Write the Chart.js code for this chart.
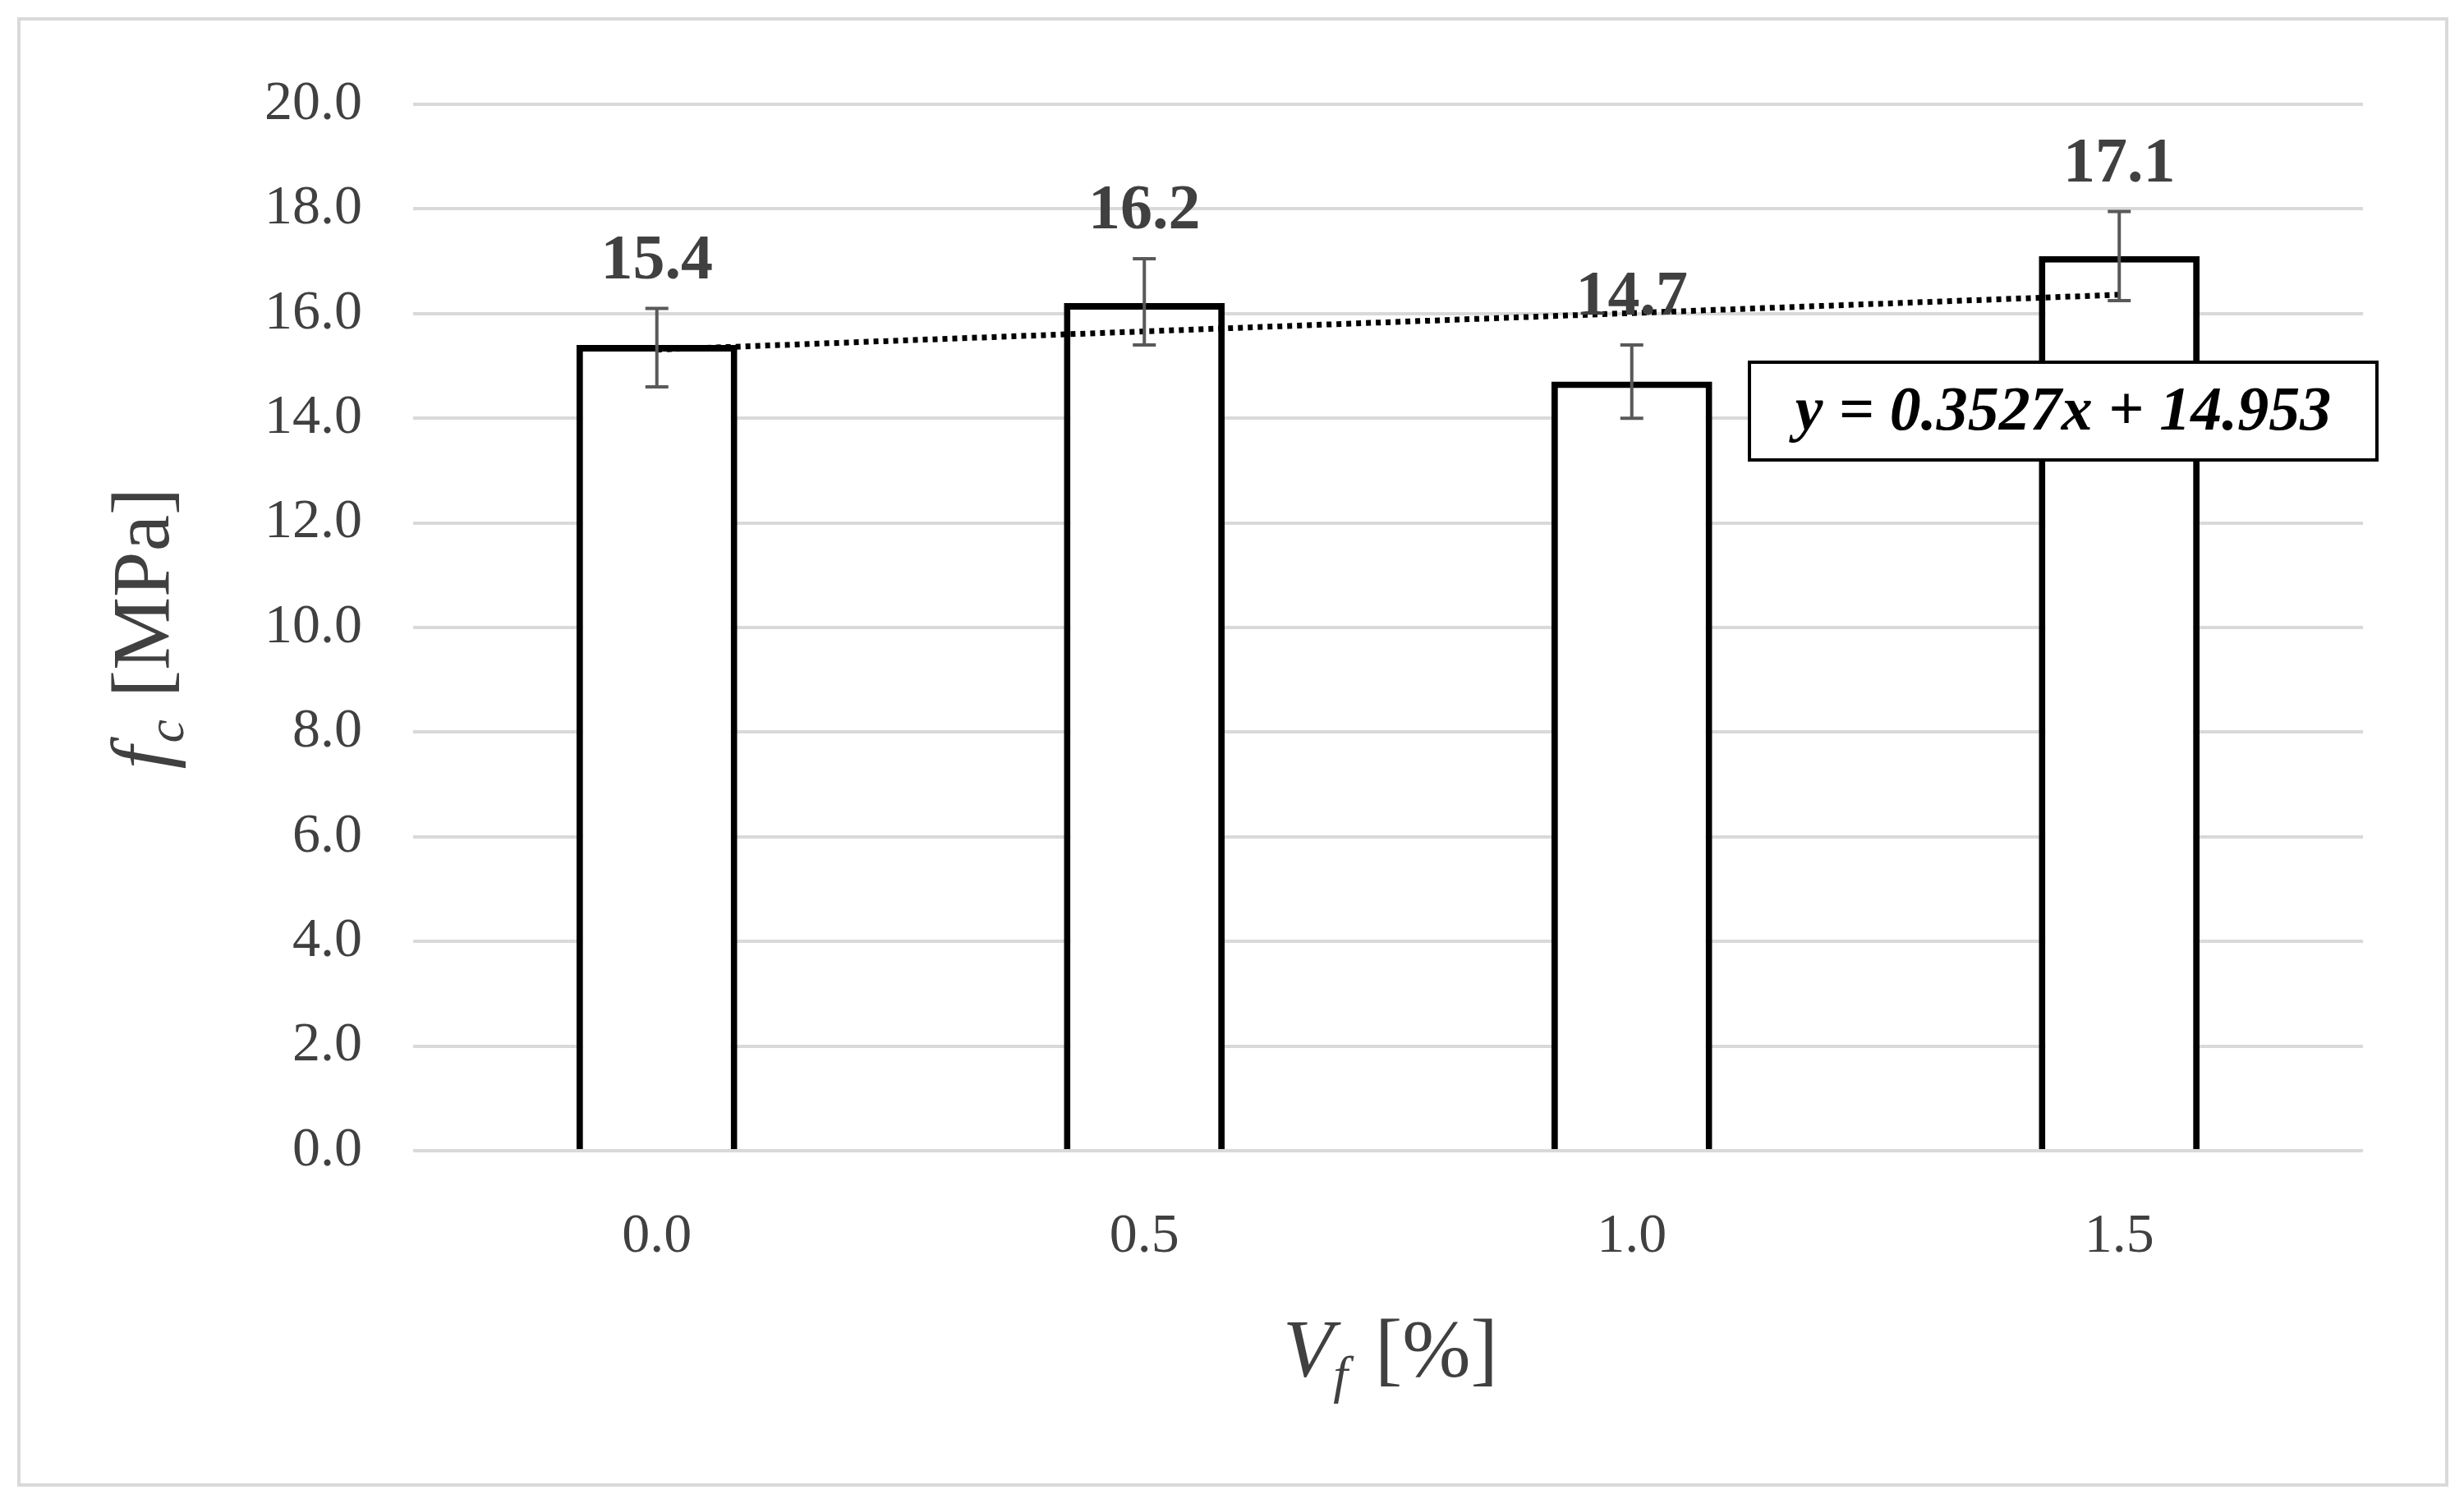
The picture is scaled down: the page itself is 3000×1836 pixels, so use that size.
<!DOCTYPE html>
<html>
<head>
<meta charset="utf-8">
<script src="https://cdn.jsdelivr.net/npm/chart.js@4.4.1/dist/chart.umd.min.js"></script>
<style>
  html, body { margin: 0; padding: 0; background: #fff; }
  canvas { display: block; }
</style>
</head>
<body>
<canvas id="grafica" width="3000" height="1836"></canvas>
<script>
// datos
var categorias = ['0.0', '0.5', '1.0', '1.5'];
var resistencia = [15.4, 16.2, 14.7, 17.1];
var errorSup = [16.1, 17.05, 15.4, 17.95];
var errorInf = [14.6, 15.4, 14.0, 16.25];
var tendencia = [15.31, 15.66, 16.01, 16.36];
var ecuacion = 'y = 0.3527x + 14.953';

var serif = '"Liberation Serif", "DejaVu Serif", serif';

// barras de error, etiquetas, titulos y marco
var extras = {
    id: 'extras',
    afterDatasetsDraw: function(chart) {
        var c = chart.ctx, x = chart.scales.x, y = chart.scales.y;
        c.save();
        // barras de error
        c.strokeStyle = '#595959';
        c.lineWidth = 4;
        for (var i = 0; i < resistencia.length; i++) {
            var px = x.getPixelForValue(i);
            var t = y.getPixelForValue(errorSup[i]), b = y.getPixelForValue(errorInf[i]);
            c.beginPath();
            c.moveTo(px, t); c.lineTo(px, b);
            c.moveTo(px - 14, t); c.lineTo(px + 14, t);
            c.moveTo(px - 14, b); c.lineTo(px + 14, b);
            c.stroke();
        }
        // etiquetas de valor
        c.fillStyle = '#404040';
        c.font = 'bold 78px ' + serif;
        c.textAlign = 'center';
        c.textBaseline = 'bottom';
        for (var j = 0; j < resistencia.length; j++) {
            c.fillText(resistencia[j].toFixed(1), x.getPixelForValue(j), y.getPixelForValue(errorSup[j]) - 18);
        }
        // caja de la ecuacion
        c.fillStyle = '#fff';
        c.fillRect(2130, 441, 764, 119);
        c.strokeStyle = '#000';
        c.lineWidth = 4;
        c.strokeRect(2130, 441, 764, 119);
        c.fillStyle = '#000';
        c.font = 'italic bold 76px ' + serif;
        c.textBaseline = 'middle';
        c.fillText(ecuacion, 2512, 503);
        // titulo eje y
        c.save();
        c.translate(205, 768);
        c.rotate(-Math.PI / 2);
        c.fillStyle = '#404040';
        c.textAlign = 'left';
        c.textBaseline = 'alphabetic';
        c.font = 'italic 100px ' + serif;
        var w1 = c.measureText('f').width;
        c.font = 'italic 64px ' + serif;
        var w2 = c.measureText('c').width;
        c.font = '100px ' + serif;
        var w3 = c.measureText(' [MPa]').width;
        var x0 = -(w1 + w2 + w3) / 2;
        c.font = 'italic 100px ' + serif; c.fillText('f', x0, 0);
        c.font = 'italic 64px ' + serif; c.fillText('c', x0 + w1 + 4, 18);
        c.font = '100px ' + serif; c.fillText(' [MPa]', x0 + w1 + w2 + 6, 0);
        c.restore();
        // titulo eje x
        c.fillStyle = '#404040';
        c.textAlign = 'left';
        c.textBaseline = 'alphabetic';
        c.font = 'italic 100px ' + serif;
        var v1 = c.measureText('V').width;
        c.font = 'italic 64px ' + serif;
        var v2 = c.measureText('f').width;
        c.font = '100px ' + serif;
        var v3 = c.measureText(' [%]').width;
        var xx = 1689 - (v1 + v2 + v3) / 2;
        c.font = 'italic 100px ' + serif; c.fillText('V', xx, 1675);
        c.font = 'italic 64px ' + serif; c.fillText('f', xx + v1, 1695);
        c.font = '100px ' + serif; c.fillText(' [%]', xx + v1 + v2 + 8, 1675);
        // marco exterior
        c.strokeStyle = '#d9d9d9';
        c.lineWidth = 4;
        c.strokeRect(23, 23, 2956, 1785);
        c.restore();
    }
};

var ctx = document.getElementById('grafica').getContext('2d');
var grafica = new Chart(ctx, {
    type: 'bar',
    data: {
        labels: categorias,
        datasets: [{
            type: 'line',
            data: tendencia,
            borderColor: '#000',
            borderWidth: 7,
            borderDash: [6, 6],
            pointRadius: 0,
            fill: false,
            order: 0
        }, {
            data: resistencia,
            backgroundColor: '#fff',
            borderColor: '#000',
            borderWidth: 8,
            barPercentage: 0.33,
            categoryPercentage: 1,
            order: 1
        }]
    },
    plugins: [extras],
    options: {
        responsive: false,
        devicePixelRatio: 1,
        animation: false,
        layout: { padding: { left: 230, right: 123, top: 127, bottom: 235 } },
        plugins: { legend: { display: false }, tooltip: { enabled: false } },
        scales: {
            x: {
                afterFit: function(s) { s.height = 200; },
                grid: { display: false },
                border: { display: false },
                ticks: { padding: 56, color: '#404040', font: { family: serif, size: 68 } }
            },
            y: {
                min: 0, max: 20,
                afterFit: function(s) { s.width = 273; },
                grid: { color: '#d9d9d9', lineWidth: 4, drawTicks: false },
                border: { display: false },
                ticks: {
                    stepSize: 2, padding: 62, color: '#404040',
                    font: { family: serif, size: 68 },
                    callback: function(v) { return v.toFixed(1); }
                }
            }
        }
    }
});
</script>
</body>
</html>
